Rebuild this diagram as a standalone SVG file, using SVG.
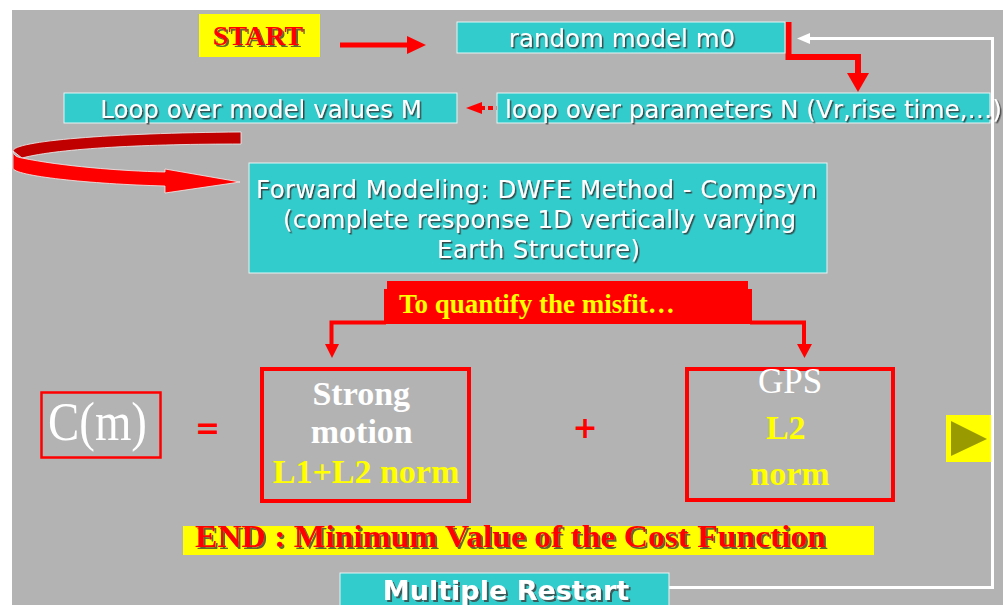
<svg xmlns="http://www.w3.org/2000/svg" width="1003" height="605" viewBox="0 0 1003 605">
<style>
.cy{fill:#33cccc;stroke:#e8f4f4;stroke-width:1}
.vt{font-family:"DejaVu Sans","Verdana",sans-serif;font-size:24.5px;fill:#ffffff}
.tm{font-family:"Liberation Serif","Times New Roman",serif}
.red{fill:#ff0000}
.rbox{fill:none;stroke:#ff0000}
</style>
<defs>
<filter id="sh" x="-5%" y="-30%" width="110%" height="160%">
<feDropShadow dx="1.5" dy="1.5" stdDeviation="0.5" flood-color="#303030" flood-opacity="0.85"/>
</filter>
<filter id="sh2" x="-5%" y="-30%" width="110%" height="160%">
<feDropShadow dx="2" dy="2" stdDeviation="0.6" flood-color="#404040" flood-opacity="0.8"/>
</filter>
</defs>
<rect x="0" y="0" width="1003" height="605" fill="#ffffff"/>
<rect x="12" y="10" width="991" height="595" fill="#b3b3b3"/>

<g id="connectors">
  <!-- START arrow -->
  <line x1="340" y1="45" x2="409" y2="45" stroke="#ff0000" stroke-width="5"/>
  <polygon points="407,36 426,45 407,54" fill="#ff0000"/>
  <!-- random model to loop params -->
  <path d="M788.5,22 V57 H858 V75" fill="none" stroke="#ff0000" stroke-width="6"/>
  <polygon points="847,73 869,73 858,92" fill="#ff0000"/>
  <!-- dashed from loop params to loop model -->
  <line x1="480" y1="108" x2="497" y2="108" stroke="#ff0000" stroke-width="4" stroke-dasharray="5,3"/>
  <polygon points="482,102 466,108 482,114" fill="#ff0000"/>
  <!-- curved ribbon arrow -->
  <path d="M241,132 C110,133 13,141 13,151 L22,158 C60,148 150,144 241,144 Z" fill="#c00000" stroke="#f0f0f0" stroke-width="0.8"/>
  <path d="M13,151 C14,156 17,157 22,158 C60,166 120,171 165,172 L165,169 L240,182 L165,193 L165,186 C90,184 13,176 13,168 Z" fill="#ff0000" stroke="#f0f0f0" stroke-width="0.8"/>
  <!-- misfit to strong motion -->
  <path d="M386,322.5 H331.5 V346" fill="none" stroke="#ff0000" stroke-width="4"/>
  <polygon points="325,344 339,344 332,358" fill="#ff0000"/>
  <!-- misfit to GPS -->
  <path d="M750,322.5 H804 V346" fill="none" stroke="#ff0000" stroke-width="4"/>
  <polygon points="797,344 812,344 804.5,358" fill="#ff0000"/>
  <!-- multiple restart loop back -->
  <path d="M669,587.5 H992.5 V38.5 H806" fill="none" stroke="#ffffff" stroke-width="3"/>
  <polygon points="810,33 797,38.5 810,44" fill="#ffffff"/>
</g>

<g id="start">
  <rect x="199" y="14" width="121" height="43" fill="#ffff00"/>
  <text x="258" y="45" class="tm red" font-size="28" font-weight="bold" text-anchor="middle" filter="url(#sh2)">START</text>
</g>

<g id="random-model">
  <rect x="457" y="22" width="328" height="31" class="cy"/>
  <text x="622" y="47" class="vt" text-anchor="middle" filter="url(#sh)">random model m0</text>
</g>

<g id="loop-model">
  <rect x="64" y="93" width="393" height="30" class="cy"/>
  <text x="261" y="118" class="vt" text-anchor="middle" filter="url(#sh)">Loop over model values M</text>
</g>

<g id="loop-params">
  <rect x="497" y="93" width="493" height="30" class="cy"/>
  <text x="505" y="118" class="vt" textLength="497" lengthAdjust="spacingAndGlyphs" filter="url(#sh)">loop over parameters N (Vr,rise time,…)</text>
</g>

<g id="forward">
  <rect x="249" y="163" width="578" height="110" class="cy"/>
  <text class="vt" filter="url(#sh)" lengthAdjust="spacingAndGlyphs">
    <tspan x="256" y="198" textLength="561">Forward Modeling: DWFE Method - Compsyn</tspan>
    <tspan x="283" y="228" textLength="513">(complete response 1D vertically varying</tspan>
    <tspan x="437" y="258" textLength="203">Earth Structure)</tspan>
  </text>
</g>

<g id="misfit">
  <path d="M387,281 H748 V289 H752 V324 H384 V289 H387 Z" fill="#ff0000"/>
  <text x="399" y="313" class="tm" font-size="27" font-weight="bold" fill="#ffff00">To quantify the misfit…</text>
</g>

<g id="cost">
  <rect x="41.5" y="392.5" width="119" height="65" class="rbox" stroke-width="2.5"/>
  <text x="48" y="440" class="tm" font-size="54" fill="#ffffff" textLength="99" lengthAdjust="spacingAndGlyphs">C(m)</text>
</g>

<g id="equals">
  <text x="207.5" y="438" font-family="DejaVu Sans,sans-serif" font-size="30" font-weight="bold" fill="#ff0000" text-anchor="middle">=</text>
</g>

<g id="strong-motion">
  <rect x="262" y="369" width="207" height="132" class="rbox" stroke-width="4"/>
  <text class="tm" font-size="34" font-weight="bold" text-anchor="middle">
    <tspan x="365.5" y="405" fill="#ffffff">Strong</tspan>
    <tspan x="366" y="443" fill="#ffffff">motion</tspan>
    <tspan x="366" y="483" fill="#ffff00">L1+L2 norm</tspan>
  </text>
</g>

<g id="plus">
  <text x="585" y="438" font-family="DejaVu Sans,sans-serif" font-size="30" font-weight="bold" fill="#ff0000" text-anchor="middle">+</text>
</g>

<g id="gps">
  <rect x="687" y="369" width="206" height="131" class="rbox" stroke-width="4"/>
  <text x="790" y="393" class="tm" font-size="35" fill="#ffffff" text-anchor="middle">GPS</text>
  <text class="tm" font-size="34" font-weight="bold" fill="#ffff00" text-anchor="middle">
    <tspan x="790" y="439">L2</tspan>
    <tspan x="790" y="485">norm</tspan>
  </text>
</g>

<g id="next-button">
  <rect x="946" y="415" width="45" height="47" fill="#ffff00"/>
  <polygon points="951,421 987,439 951,456" fill="#999900"/>
</g>

<g id="end">
  <rect x="183" y="526" width="691" height="29" fill="#ffff00"/>
  <text x="195" y="547" class="tm red" font-size="31" font-weight="bold" textLength="631" lengthAdjust="spacingAndGlyphs" filter="url(#sh2)">END :  Minimum Value of the Cost Function</text>
</g>

<g id="multiple-restart">
  <rect x="340" y="573" width="329" height="34" class="cy"/>
  <text x="506" y="600" font-family="DejaVu Sans,sans-serif" font-size="27" font-weight="bold" fill="#ffffff" text-anchor="middle" filter="url(#sh2)">Multiple Restart</text>
</g>
</svg>
